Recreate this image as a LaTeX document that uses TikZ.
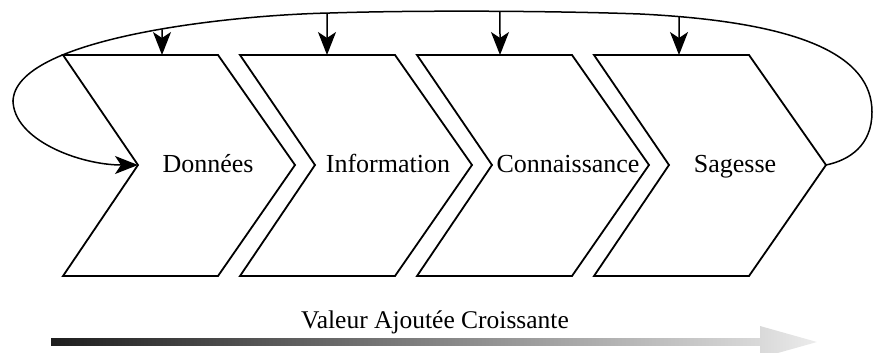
\documentclass[tikz,border=0pt]{standalone}
\usepackage{fontspec}
\setmainfont{Liberation Serif}
\usetikzlibrary{arrows.meta,intersections}
\definecolor{bardark}{HTML}{1E1E1E}
\definecolor{barlight}{HTML}{D9D9D9}
\definecolor{headlight}{HTML}{ECECEC}
\tikzset{
  chev/.style={line width=1.8pt, line join=miter},
  loopline/.style={line width=1.5pt},
  conn/.style={line width=1.5pt, -{Stealth[length=23pt 0,width=18pt 0,inset=6pt 0]}},
  lbl/.style={anchor=base, inner sep=0pt, font=\fontsize{26}{30}\selectfont},
}
\begin{document}
\begin{tikzpicture}[x=1pt,y=-1pt]
\useasboundingbox (0,0) rectangle (873,353);
\begin{scope}
\clip (0,0) rectangle (873,353);
% chevrons
\foreach \k in {0,1,2,3}{
  \pgfmathsetmacro{\xo}{63+177*\k}
  \draw[chev] (\xo,55) -- (\xo+155,55) -- (\xo+232,165) -- (\xo+155,276) -- (\xo,276) -- (\xo+75,165) -- cycle;
  \coordinate (notch\k) at (\xo+75,165);
  \coordinate (tip\k) at (\xo+232,165);
}
\coordinate (t0) at (162,55);
\coordinate (t1) at (327,55);
\coordinate (t2) at (500,55);
\coordinate (t3) at (679,55);
% labels
\node[lbl] (d0) at (208,172) {Données};
\node[lbl] (d1) at (388,172) {Information};
\node[lbl] (d2) at (568,172) {Connaissance};
\node[lbl] (d3) at (735,172) {Sagesse};
% loop
\draw[loopline, name path=loop] (tip3) .. controls (850,160) and (872,145) .. (872,112)
  .. controls (872,55) and (800,22) .. (640,14)
  .. controls (560,11) and (420,10) .. (330,13)
  .. controls (230,15) and (13,38) .. (13,102);
\draw[conn] (13,100) .. controls (13,140) and (80,165) .. (notch0);
\foreach \k in {0,1,2,3}{
  \path[name path=v\k] (t\k) -- ++(0,-60);
  \path[name intersections={of=loop and v\k, by=s\k}];
  \draw[conn] ([yshift=-0.5pt]s\k) -- (t\k);
}
% bottom gradient arrow
\node[lbl, font=\fontsize{25.5}{30}\selectfont] (val) at (435,328) {Valeur Ajoutée Croissante};
\shade[left color=bardark, right color=barlight] (51,338) rectangle (760,345);
\shade[left color=barlight, right color=headlight] (760,326) -- (817,342) -- (760,358) -- cycle;
\end{scope}
\end{tikzpicture}
\end{document}
